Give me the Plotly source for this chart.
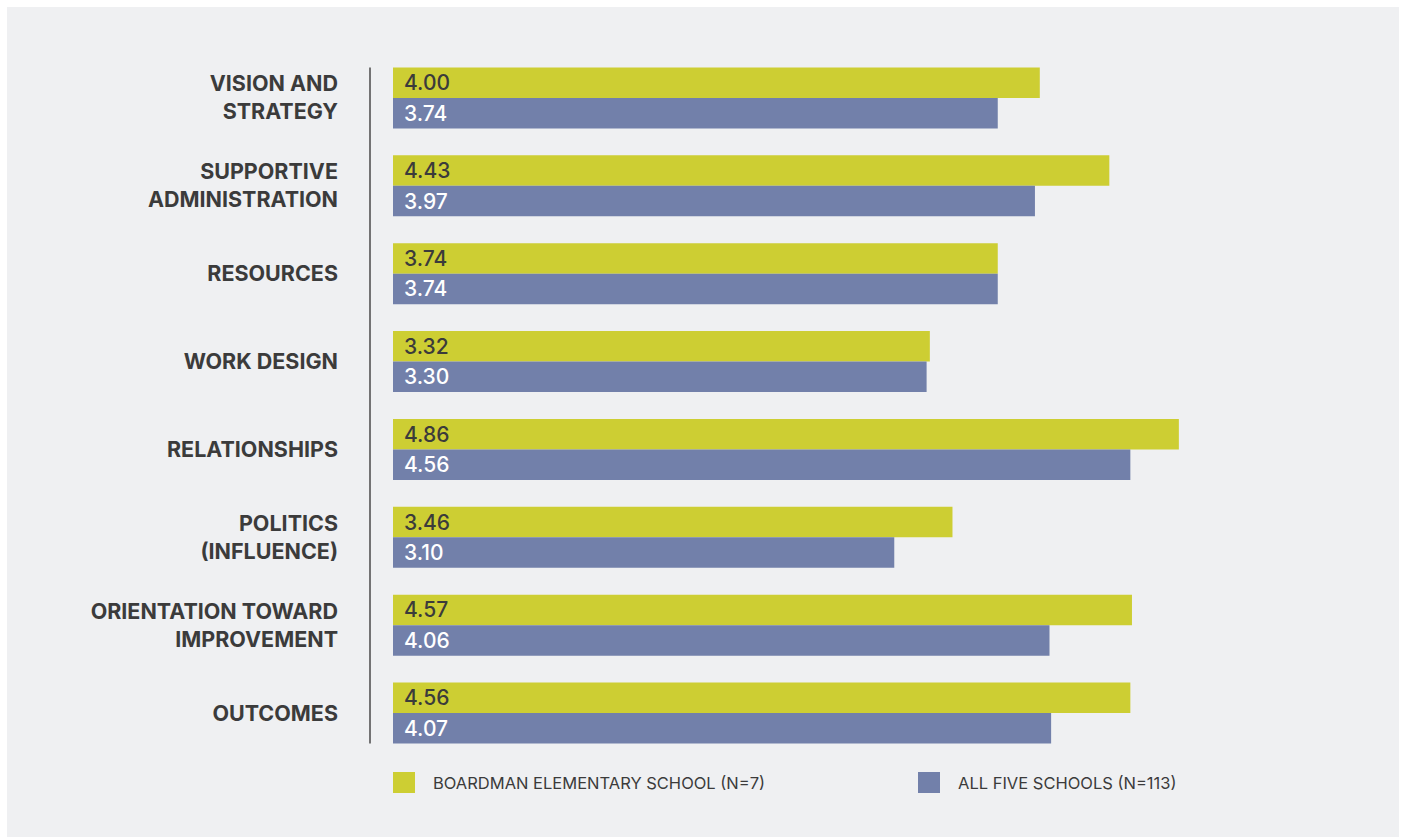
import plotly.graph_objects as go

# Survey dimensions (top to bottom) and mean scores
categories = [
    "VISION AND<br>STRATEGY",
    "SUPPORTIVE<br>ADMINISTRATION",
    "RESOURCES",
    "WORK DESIGN",
    "RELATIONSHIPS",
    "POLITICS<br>(INFLUENCE)",
    "ORIENTATION TOWARD<br>IMPROVEMENT",
    "OUTCOMES",
]
boardman_scores = [4.00, 4.43, 3.74, 3.32, 4.86, 3.46, 4.57, 4.56]
all_schools_scores = [3.74, 3.97, 3.74, 3.30, 4.56, 3.10, 4.06, 4.07]
series_names = ["BOARDMAN ELEMENTARY SCHOOL (N=7)", "ALL FIVE SCHOOLS (N=113)"]

GREEN = "#cdce33"
BLUE = "#7280aa"
PANEL = "#eff0f2"
TEXT = "#3b3b3b"
FONT = "Inter"

W, H = 1403, 837
L, R, T, B = 370, 13, 54, 80
plot_w = W - L - R
plot_h = H - T - B
BAR_GAP = 0.306
px_per_cat = plot_h / len(categories)
bar_px = px_per_cat * (1 - BAR_GAP) / 2

fig = go.Figure()
for name, vals, col in [
    (series_names[0], boardman_scores, GREEN),
    (series_names[1], all_schools_scores, BLUE),
]:
    fig.add_trace(go.Bar(
        y=categories, x=vals, name=name, orientation="h",
        marker=dict(color=col, line=dict(width=0)),
        showlegend=False, hoverinfo="x+name",
    ))

# value labels at the left end of each bar
annotations = []
for vals, col, shift in [
    (boardman_scores, TEXT, bar_px / 2),
    (all_schools_scores, "#ffffff", -bar_px / 2),
]:
    for cat, v in zip(categories, vals):
        annotations.append(dict(
            x=0, y=cat, xref="x", yref="y", text=f"{v:.2f}",
            xanchor="left", yanchor="middle", xshift=9, yshift=shift,
            showarrow=False,
            font=dict(family=FONT, size=21, color=col, weight=500),
        ))

def px_to_paper_x(px):
    return (px - L) / plot_w

def px_to_paper_y(py):
    return (H - B - py) / plot_h

shapes = [
    # panel background
    dict(type="rect", xref="paper", yref="paper", layer="below",
         x0=px_to_paper_x(7), x1=px_to_paper_x(1399),
         y0=px_to_paper_y(837), y1=px_to_paper_y(7),
         fillcolor=PANEL, line=dict(width=0)),
    # vertical axis line spanning the bars
    dict(type="line", xref="paper", yref="y",
         x0=0, x1=0, y0=-0.5 + BAR_GAP / 2, y1=len(categories) - 0.5 - BAR_GAP / 2,
         line=dict(color="#4a4a4a", width=1.5)),
]

# legend: swatch + label for each series
legend_items = [(393, GREEN, series_names[0]), (918, BLUE, series_names[1])]
for lx, col, name in legend_items:
    shapes.append(dict(type="rect", xref="paper", yref="paper",
                       x0=px_to_paper_x(lx), x1=px_to_paper_x(lx + 22),
                       y0=px_to_paper_y(793), y1=px_to_paper_y(772),
                       fillcolor=col, line=dict(width=0)))
    annotations.append(dict(
        x=px_to_paper_x(lx + 38), y=px_to_paper_y(783), xref="paper", yref="paper",
        text=name, xanchor="left", yanchor="middle", showarrow=False,
        font=dict(family=FONT, size=16.5, color=TEXT),
    ))

fig.update_layout(
    width=W, height=H,
    margin=dict(l=L, r=R, t=T, b=B, pad=0),
    paper_bgcolor="#ffffff", plot_bgcolor="rgba(0,0,0,0)",
    barmode="group", bargap=BAR_GAP, bargroupgap=0,
    shapes=shapes, annotations=annotations,
    font=dict(family=FONT, color=TEXT),
    xaxis=dict(range=[-23 / 161.7, (plot_w - 23) / 161.7], visible=False,
               fixedrange=True),
    yaxis=dict(autorange="reversed", showgrid=False, zeroline=False,
               showline=False, ticks="", ticklabelstandoff=31,
               tickfont=dict(family=FONT, size=21.5, color=TEXT, weight="bold")),
)

fig.write_html("out.html")
